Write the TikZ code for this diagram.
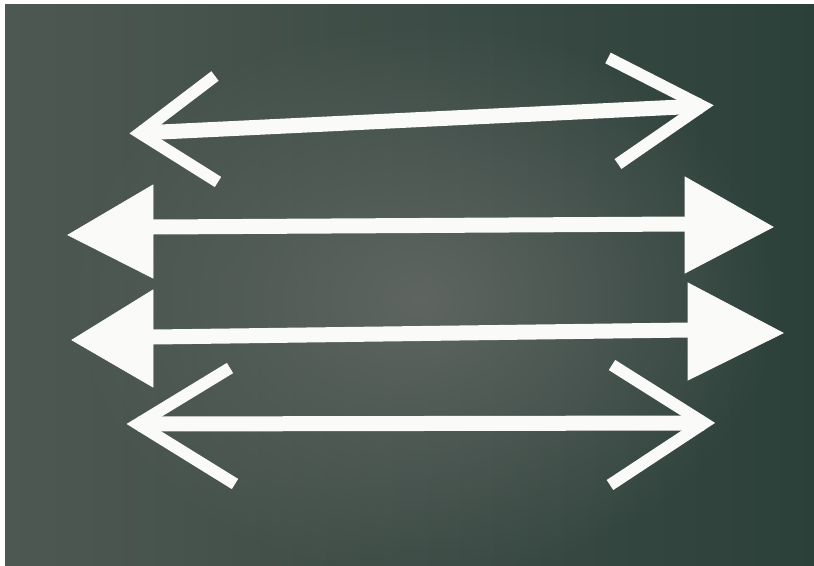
\documentclass[tikz,border=0pt]{standalone}
\usetikzlibrary{fadings}
\definecolor{bgleft}{RGB}{78,88,82}
\definecolor{bgright}{RGB}{44,64,58}
\definecolor{bgmid}{RGB}{100,106,102}
\definecolor{paper}{RGB}{250,250,248}
\tikzfading[name=softglow, inner color=transparent!15, outer color=transparent!100]
\tikzset{
  shaft/.style={draw=paper, line width=15pt, line cap=butt},
  openhead/.style={draw=paper, line width=12pt, line cap=butt, line join=miter, miter limit=10},
  solidhead/.style={fill=paper, draw=paper, line width=0.8pt, line join=miter}
}
\begin{document}
\begin{tikzpicture}[x=1pt,y=-1pt]
\useasboundingbox (0,0) rectangle (814,565);
\fill[white] (0,0) rectangle (814,565);
% background board
\shade[left color=bgleft, right color=bgright] (5,4) rectangle (814,565);
\fill[bgmid, path fading=softglow] (420,300) ellipse [x radius=360, y radius=280];
% arrow 1 (slanted, open heads)
\coordinate (a1l) at (140,133);
\coordinate (a1r) at (702,106);
\draw[shaft] (a1l) -- (a1r);
\draw[openhead] (215,76) -- (a1l) -- (218,182);
\draw[openhead] (608,58) -- (a1r) -- (618,164);
% arrow 2 (solid heads)
\coordinate (a2l) at (153,227);
\coordinate (a2r) at (686,224);
\draw[shaft] (a2l) -- (a2r);
\filldraw[solidhead] (68,235) -- (153,185) -- (153,278) -- cycle;
\filldraw[solidhead] (685,177) -- (773,227) -- (685,273) -- cycle;
% arrow 3 (solid heads)
\coordinate (a3l) at (153,337);
\coordinate (a3r) at (689,330);
\draw[shaft] (a3l) -- (a3r);
\filldraw[solidhead] (72,340) -- (153,290) -- (153,387) -- cycle;
\filldraw[solidhead] (688,283) -- (783,333) -- (688,380) -- cycle;
% arrow 4 (open heads)
\coordinate (a4l) at (138,424);
\coordinate (a4r) at (704,423);
\draw[shaft] (a4l) -- (a4r);
\draw[openhead] (230,368) -- (a4l) -- (235,484);
\draw[openhead] (612,365) -- (a4r) -- (610,485);
\end{tikzpicture}
\end{document}
